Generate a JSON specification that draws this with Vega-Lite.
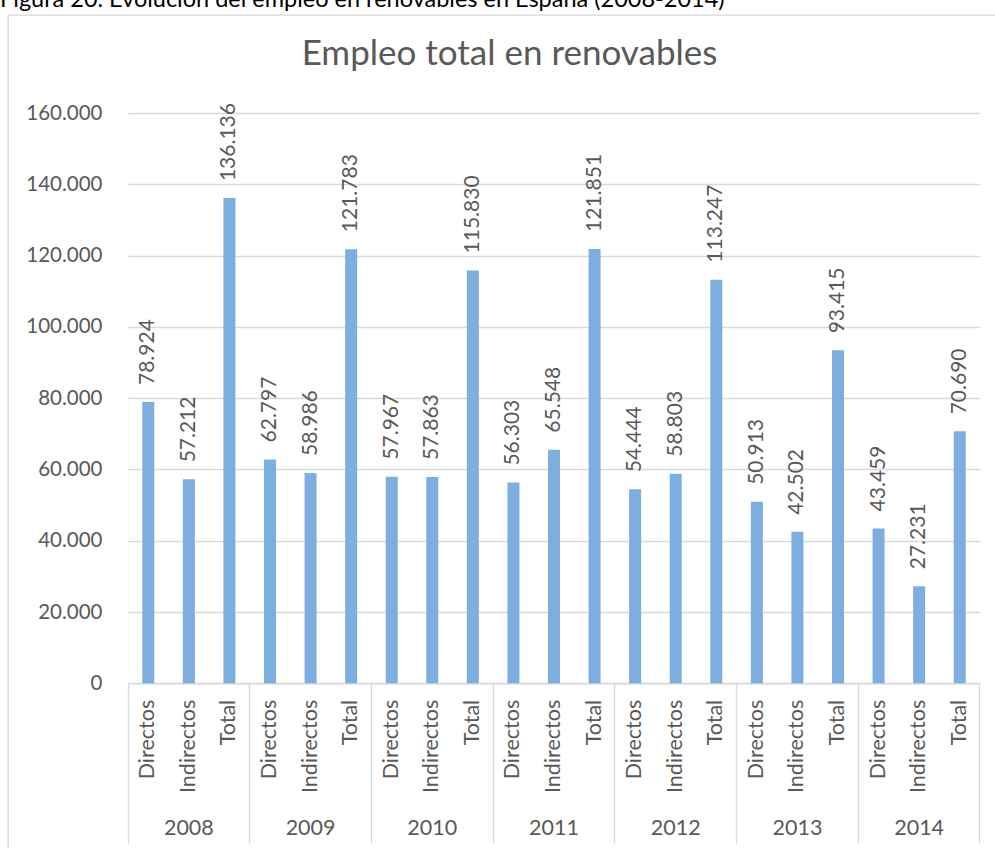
{
  "$schema": "https://vega.github.io/schema/vega-lite/v6.json",
  "background": "white",
  "padding": {"left": 0, "top": -13, "right": -5, "bottom": -4},
  "config": {
    "font": "Lato",
    "locale": {"number": {"decimal": ",", "thousands": ".", "grouping": [3], "currency": ["", " €"]}}
  },
  "title": {
    "text": "Figura 20. Evolución del empleo en renovables en España (2008-2014)",
    "anchor": "start",
    "frame": "bounds",
    "fontSize": 23.5,
    "fontWeight": "normal",
    "color": "#000000",
    "dx": -8,
    "offset": 4
  },
  "width": 992,
  "height": 837,
  "view": {"stroke": "#D9D9D9", "strokeWidth": 1.3},
  "data": {
    "values": [
      {"anio": "2008", "tipo": "Directos", "clave": "2008 Directos", "empleo": 78924},
      {"anio": "2008", "tipo": "Indirectos", "clave": "2008 Indirectos", "empleo": 57212},
      {"anio": "2008", "tipo": "Total", "clave": "2008 Total", "empleo": 136136},
      {"anio": "2009", "tipo": "Directos", "clave": "2009 Directos", "empleo": 62797},
      {"anio": "2009", "tipo": "Indirectos", "clave": "2009 Indirectos", "empleo": 58986},
      {"anio": "2009", "tipo": "Total", "clave": "2009 Total", "empleo": 121783},
      {"anio": "2010", "tipo": "Directos", "clave": "2010 Directos", "empleo": 57967},
      {"anio": "2010", "tipo": "Indirectos", "clave": "2010 Indirectos", "empleo": 57863},
      {"anio": "2010", "tipo": "Total", "clave": "2010 Total", "empleo": 115830},
      {"anio": "2011", "tipo": "Directos", "clave": "2011 Directos", "empleo": 56303},
      {"anio": "2011", "tipo": "Indirectos", "clave": "2011 Indirectos", "empleo": 65548},
      {"anio": "2011", "tipo": "Total", "clave": "2011 Total", "empleo": 121851},
      {"anio": "2012", "tipo": "Directos", "clave": "2012 Directos", "empleo": 54444},
      {"anio": "2012", "tipo": "Indirectos", "clave": "2012 Indirectos", "empleo": 58803},
      {"anio": "2012", "tipo": "Total", "clave": "2012 Total", "empleo": 113247},
      {"anio": "2013", "tipo": "Directos", "clave": "2013 Directos", "empleo": 50913},
      {"anio": "2013", "tipo": "Indirectos", "clave": "2013 Indirectos", "empleo": 42502},
      {"anio": "2013", "tipo": "Total", "clave": "2013 Total", "empleo": 93415},
      {"anio": "2014", "tipo": "Directos", "clave": "2014 Directos", "empleo": 43459},
      {"anio": "2014", "tipo": "Indirectos", "clave": "2014 Indirectos", "empleo": 27231},
      {"anio": "2014", "tipo": "Total", "clave": "2014 Total", "empleo": 70690}
    ]
  },
  "layer": [
    {
      "mark": {"type": "bar", "size": 12, "color": "#7DAEE0"},
      "encoding": {
        "x": {
          "field": "clave", "type": "nominal", "sort": null,
          "scale": {"paddingInner": 0, "paddingOuter": 0, "range": [120, 972]},
          "axis": {
            "orient": "bottom", "title": null, "offset": -168.7,
            "labelExpr": "split(datum.value, ' ')[1]",
            "labelAngle": 270, "labelAlign": "right", "labelBaseline": "middle",
            "labelPadding": 16, "ticks": false,
            "domainColor": "#D9D9D9", "domainWidth": 1.3,
            "labelFontSize": 21.5, "labelColor": "#595959",
            "labelOverlap": false, "grid": false
          }
        },
        "y": {
          "field": "empleo", "type": "quantitative",
          "scale": {"domain": [0, 160000], "nice": false, "range": [668.3, 98]},
          "axis": {
            "title": null, "offset": -120,
            "values": [0, 20000, 40000, 60000, 80000, 100000, 120000, 140000, 160000],
            "format": ",d",
            "grid": true, "gridColor": "#D9D9D9", "gridWidth": 1.3,
            "domain": false, "ticks": false,
            "labelPadding": 26, "labelFontSize": 20.5, "labelColor": "#595959"
          }
        }
      }
    },
    {
      "mark": {"type": "text", "angle": 270, "align": "left", "baseline": "middle", "dx": 17, "fontSize": 21, "color": "#595959"},
      "encoding": {
        "x": {"field": "clave", "type": "nominal", "sort": null, "axis": null},
        "y": {"field": "empleo", "type": "quantitative"},
        "text": {"field": "empleo", "type": "quantitative", "format": ",d"}
      }
    },
    {
      "mark": {"type": "rule", "opacity": 0},
      "encoding": {
        "x": {
          "field": "clave", "type": "nominal", "sort": null,
          "axis": {
            "orient": "bottom", "title": null, "offset": -168.7,
            "values": ["2008 Directos", "2009 Directos", "2010 Directos", "2011 Directos", "2012 Directos", "2013 Directos", "2014 Directos"],
            "bandPosition": 0,
            "tickSize": 160, "tickColor": "#D9D9D9", "tickWidth": 1.3,
            "domain": false, "grid": false,
            "labelExpr": "split(datum.value, ' ')[0]",
            "labelOffset": 40.57,
            "labelAngle": 0, "labelAlign": "center", "labelBaseline": "middle", "labelPadding": -15,
            "labelFontSize": 21.5, "labelColor": "#595959", "labelOverlap": false
          }
        }
      }
    },
    {
      "mark": {"type": "rule", "opacity": 0},
      "encoding": {
        "x": {
          "field": "clave", "type": "nominal", "sort": null,
          "axis": {
            "orient": "bottom", "title": null, "offset": -168.7,
            "values": ["2014 Total"],
            "bandPosition": 1,
            "tickSize": 160, "tickColor": "#D9D9D9", "tickWidth": 1.3,
            "domain": false, "grid": false, "labels": false
          }
        }
      }
    },
    {
      "mark": {"type": "rule", "opacity": 0},
      "encoding": {
        "x": {
          "field": "clave", "type": "nominal", "sort": null,
          "axis": {
            "orient": "top", "offset": -56,
            "title": "Empleo total en renovables",
            "titleFontSize": 35, "titleFontWeight": "normal", "titleColor": "#595959",
            "titlePadding": 0, "titleX": 501,
            "domain": false, "grid": false, "labels": false, "ticks": false
          }
        }
      }
    }
  ],
  "resolve": {"axis": {"x": "independent"}}
}
